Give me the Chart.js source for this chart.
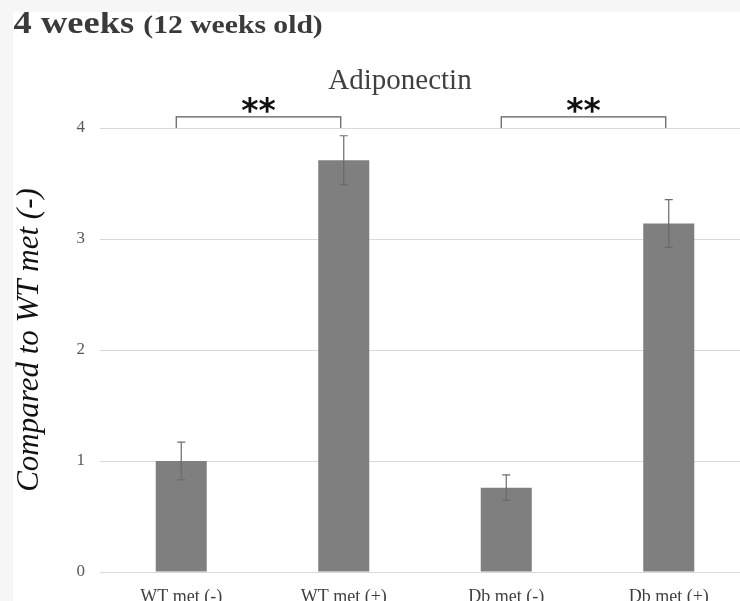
<!DOCTYPE html>
<html>
<head>
<meta charset="utf-8">
<script src="https://cdn.jsdelivr.net/npm/chart.js@4"></script>
<style>
  html, body { margin: 0; padding: 0; background: #f6f6f6; overflow: hidden; }
  #wrap { position: absolute; left: 13px; top: 12px; width: 737px; height: 589px; background: #fff; }
</style>
</head>
<body>
<div id="wrap"><canvas id="adipo"></canvas></div>
<script>
var groups = ['WT met (-)', 'WT met (+)', 'Db met (-)', 'Db met (+)'];
var means = [1.00, 3.71, 0.76, 3.14];
var sem = [0.17, 0.22, 0.115, 0.215];
var yTicks = [0, 1, 2, 3, 4];
// significance brackets: [from index, to index, mark]
var sigPairs = [[0, 1, '**'], [2, 3, '**']];

const serif = "'Liberation Serif', 'Times New Roman', serif";

const extras = {
    id: 'extras',
    afterDatasetsDraw(chart) {
        const ctx = chart.ctx;
        const x = chart.scales.x, y = chart.scales.y;
        // error bars
        ctx.save();
        ctx.strokeStyle = '#6a6a6a';
        ctx.lineWidth = 1.2;
        means.forEach((m, i) => {
            const cx = x.getPixelForValue(i);
            const top = y.getPixelForValue(m + sem[i]);
            const bot = y.getPixelForValue(m - sem[i]);
            ctx.beginPath();
            ctx.moveTo(cx, top); ctx.lineTo(cx, bot);
            ctx.moveTo(cx - 4, top); ctx.lineTo(cx + 4, top);
            ctx.moveTo(cx - 4, bot); ctx.lineTo(cx + 4, bot);
            ctx.stroke();
        });
        ctx.restore();
    },
    afterDraw(chart) {
        const ctx = chart.ctx;
        const x = chart.scales.x, y = chart.scales.y;
        ctx.save();

        // header, drawn a little stretched sideways
        ctx.save();
        ctx.scale(1.14, 1);
        ctx.fillStyle = '#3a3a3a';
        ctx.textBaseline = 'alphabetic';
        ctx.textAlign = 'left';
        ctx.font = 'bold 32px ' + serif;
        ctx.fillText('4 weeks', 0.5, 21);
        const w = ctx.measureText('4 weeks ').width;
        ctx.font = 'bold 26px ' + serif;
        ctx.fillText('(12 weeks old)', w + 0.5, 21);
        ctx.restore();

        // chart title
        ctx.fillStyle = '#404040';
        ctx.textAlign = 'center';
        ctx.font = '29px ' + serif;
        ctx.fillText('Adiponectin', 387, 77);

        // y axis label
        ctx.save();
        ctx.translate(25, 328);
        ctx.rotate(-Math.PI / 2);
        ctx.fillStyle = '#111';
        ctx.font = 'italic 31px ' + serif;
        ctx.fillText('Compared to WT met (-)', 0, 0);
        ctx.restore();

        // brackets
        ctx.strokeStyle = '#5a5a5a';
        ctx.lineWidth = 1.2;
        ctx.fillStyle = '#111';
        ctx.font = "bold 33px 'DejaVu Sans', sans-serif";
        sigPairs.forEach(([a, b, mark]) => {
            const x1 = x.getPixelForValue(a) - 5;
            const x2 = x.getPixelForValue(b) - 3;
            const yb = y.getPixelForValue(4);
            const yt = y.getPixelForValue(4.1);
            ctx.beginPath();
            ctx.moveTo(x1, yb); ctx.lineTo(x1, yt); ctx.lineTo(x2, yt); ctx.lineTo(x2, yb);
            ctx.stroke();
            ctx.fillText(mark, (x1 + x2) / 2, 110);
        });
        ctx.restore();
    }
};

new Chart(document.getElementById('adipo'), {
    type: 'bar',
    data: {
        labels: groups,
        datasets: [{
            data: means,
            backgroundColor: '#7f7f7f',
            barPercentage: 0.314,
            categoryPercentage: 1
        }]
    },
    options: {
        responsive: true,
        maintainAspectRatio: false,
        animation: false,
        events: [],
        layout: { padding: { top: 116, left: 0, right: 0, bottom: 0 } },
        plugins: { legend: { display: false }, title: { display: false }, tooltip: { enabled: false } },
        scales: {
            x: {
                grid: { display: false },
                border: { display: false },
                ticks: { color: '#404040', font: { family: serif, size: 18 }, padding: 6, maxRotation: 0 },
                afterFit(s) { s.height = 29; }
            },
            y: {
                min: 0,
                max: 4,
                afterBuildTicks(s) { s.ticks = yTicks.map(v => ({ value: v })); },
                grid: { color: '#d9d9d9', lineWidth: 1, drawTicks: false },
                border: { display: false },
                ticks: { color: '#595959', font: { family: serif, size: 17 }, padding: 15 },
                afterFit(s) { s.width = 87; }
            }
        }
    },
    plugins: [extras]
});
</script>
</body>
</html>
